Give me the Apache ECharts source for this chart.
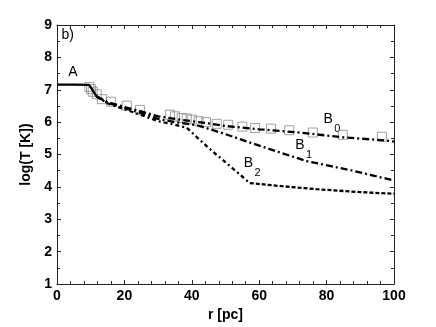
<!DOCTYPE html>
<html>
<head>
<meta charset="utf-8">
<script src="https://cdn.jsdelivr.net/npm/echarts@6/dist/echarts.min.js"></script>
<style>
  html, body { margin: 0; padding: 0; background: #fff; }
  #chart { width: 436px; height: 327px; }
</style>
</head>
<body>
<div id="chart"></div>
<script>
// curve A (solid, core)
var curveA = [[0, 7.16], [5, 7.16], [9.5, 7.15], [10.5, 7.0], [11.8, 6.79]];
// B0
var curveB0 = [[11.8, 6.79], [15, 6.62], [20, 6.47], [25, 6.33], [30, 6.18], [35, 6.1], [40, 6.03],
  [45, 5.96], [50, 5.88], [60, 5.78], [72, 5.68], [85, 5.53], [97, 5.44], [100, 5.4]];
// B1
var curveB1 = [[11.8, 6.79], [15, 6.6], [20, 6.44], [25, 6.28], [30, 6.1], [35, 6.0], [40, 5.93],
  [42.4, 5.88], [50, 5.63], [57.3, 5.37], [66, 5.07], [74, 4.8], [87, 4.52], [100, 4.2]];
// B2, steep part then flat part
var curveB2a = [[11.8, 6.79], [15, 6.58], [20, 6.4], [25, 6.22], [30, 6.03], [35, 5.92], [38.5, 5.83],
  [42.4, 5.45], [45.9, 5.12], [49.9, 4.77], [57.2, 4.12]];
var curveB2b = [[57.2, 4.12], [65, 4.04], [77, 3.93], [90, 3.84], [100, 3.79]];
// observed points (squares)
var obsPoints = [[9.6, 7.09], [10.1, 7.02], [10.6, 6.94], [11.8, 6.86], [13.3, 6.71], [16, 6.63],
  [20.7, 6.51], [24.6, 6.38], [33.5, 6.23], [35, 6.18], [37, 6.13], [38.5, 6.11], [40, 6.08],
  [42, 6.03], [44.2, 6.0], [47.4, 5.95], [50.8, 5.92], [55, 5.86], [58.8, 5.82], [63.5, 5.8],
  [68.9, 5.75], [75.9, 5.68], [84.8, 5.61], [96.4, 5.55]];

// text labels: [x, y, text, subscript]
var labels = [
  [4.7, 7.54, 'A', ''],
  [80.5, 6.08, 'B', '0'],
  [72.1, 5.28, 'B', '1'],
  [56.8, 4.72, 'B', '2'],
  [3.2, 8.7, 'b)', '']
];

var chart = echarts.init(document.getElementById('chart'));
var axisColor = '#222';
var fontFam = '"Liberation Sans", Arial, sans-serif';

function lineSeries(data, type) {
  return {
    type: 'line', data: data, showSymbol: false, symbol: 'none', z: 3,
    lineStyle: { color: '#000', width: 2.3, type: type }
  };
}

var option = {
  animation: false,
  grid: { left: 57, right: 42, top: 25, bottom: 37 },
  xAxis: [{
    type: 'value', min: 0, max: 100, interval: 20,
    name: 'r [pc]', nameLocation: 'middle', nameGap: 16,
    nameTextStyle: { color: '#000', fontSize: 14, fontWeight: 'bold', fontFamily: fontFam },
    axisLine: { onZero: false, lineStyle: { color: axisColor, width: 1 } },
    axisTick: { inside: true, length: 4, lineStyle: { color: axisColor } },
    minorTick: { show: true, splitNumber: 5, length: 3, lineStyle: { color: axisColor } },
    axisLabel: { color: '#000', fontSize: 14, fontWeight: 'bold', fontFamily: fontFam, margin: 5 },
    splitLine: { show: false }
  }, {
    type: 'value', min: 0, max: 100, interval: 20, position: 'top',
    axisLine: { onZero: false, lineStyle: { color: axisColor, width: 1 } },
    axisTick: { inside: true, length: 4, lineStyle: { color: axisColor } },
    minorTick: { show: true, splitNumber: 5, length: 3, lineStyle: { color: axisColor } },
    axisLabel: { show: false }, splitLine: { show: false }
  }],
  yAxis: [{
    type: 'value', min: 1, max: 9, interval: 1,
    name: 'log(T [K])', nameLocation: 'middle', nameGap: 21,
    nameTextStyle: { color: '#000', fontSize: 14, fontWeight: 'bold', fontFamily: fontFam },
    axisLine: { onZero: false, lineStyle: { color: axisColor, width: 1 } },
    axisTick: { inside: true, length: 4, lineStyle: { color: axisColor } },
    minorTick: { show: true, splitNumber: 2, length: 3, lineStyle: { color: axisColor } },
    axisLabel: { color: '#000', fontSize: 14, fontWeight: 'bold', fontFamily: fontFam, margin: 5 },
    splitLine: { show: false }
  }, {
    type: 'value', min: 1, max: 9, interval: 1, position: 'right',
    axisLine: { onZero: false, lineStyle: { color: axisColor, width: 1 } },
    axisTick: { inside: true, length: 4, lineStyle: { color: axisColor } },
    minorTick: { show: true, splitNumber: 2, length: 3, lineStyle: { color: axisColor } },
    axisLabel: { show: false }, splitLine: { show: false }
  }],
  series: [
    {
      type: 'scatter', data: obsPoints, symbol: 'rect', symbolSize: 9, z: 2,
      itemStyle: { color: 'rgba(255,255,255,0)', borderColor: '#8a8a8a', borderWidth: 1 }
    },
    lineSeries(curveA, 'solid'),
    lineSeries(curveB0, [7, 3, 2, 3]),
    lineSeries(curveB1, [7, 3, 2, 3]),
    lineSeries(curveB2a, [4, 3, 2, 3]),
    lineSeries(curveB2b, [4, 2])
  ]
};
chart.setOption(option);

// place text labels at data coordinates
var texts = [];
labels.forEach(function (l) {
  var p = chart.convertToPixel({ gridIndex: 0 }, [l[0], l[1]]);
  texts.push({
    type: 'text', x: p[0], y: p[1],
    style: { text: l[2], fontSize: 14, fontFamily: fontFam, fill: '#000',
      align: 'center', verticalAlign: 'middle' }
  });
  if (l[3]) {
    texts.push({
      type: 'text', x: p[0] + 6, y: p[1] + 9,
      style: { text: l[3], fontSize: 11, fontFamily: fontFam, fill: '#000',
        align: 'left', verticalAlign: 'middle' }
    });
  }
});
chart.setOption({ graphic: texts });
</script>
</body>
</html>
